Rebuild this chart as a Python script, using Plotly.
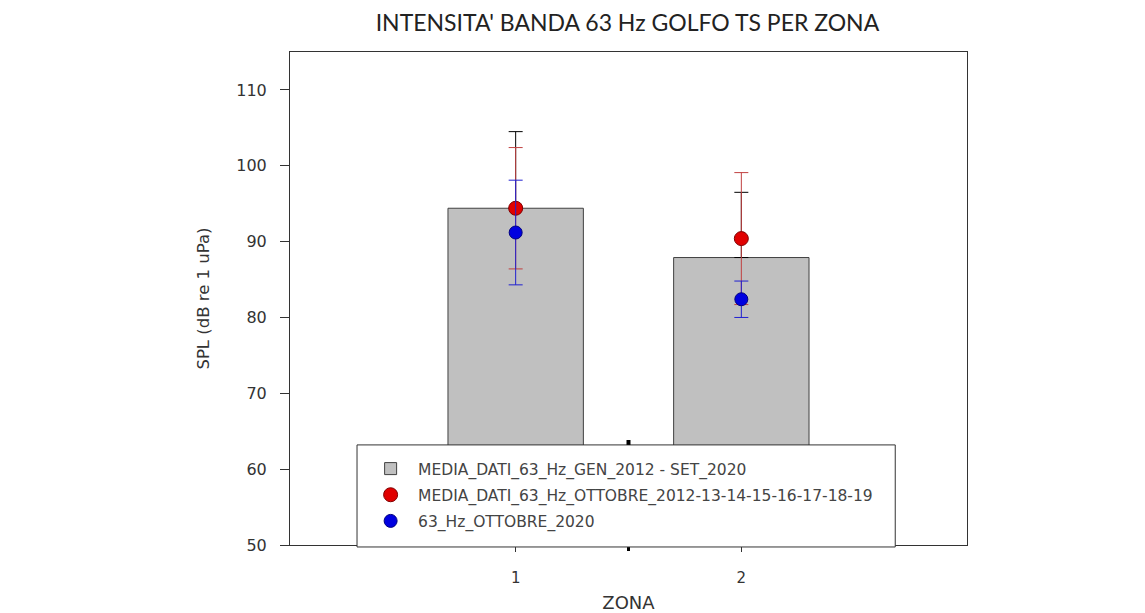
import plotly.graph_objects as go

zones = [1, 2]
bar_mean = [94.4, 87.9]
bar_err_up = [10.1, 8.6]
red_mean = [94.4, 90.4]
red_err = [8.0, 8.7]
blue_mean = [91.2, 82.4]
blue_err = [6.9, 2.4]

name_bar = "MEDIA_DATI_63_Hz_GEN_2012 - SET_2020"
name_red = "MEDIA_DATI_63_Hz_OTTOBRE_2012-13-14-15-16-17-18-19"
name_blue = "63_Hz_OTTOBRE_2020"

fig = go.Figure()
fig.add_trace(go.Bar(
    x=zones, y=bar_mean, width=0.6, name=name_bar, legendgroup="a",
    marker=dict(color="#c0c0c0", line=dict(color="#404040", width=1)),
    error_y=dict(type="data", array=bar_err_up, arrayminus=[0, 0],
                 color="#000000", thickness=1, width=7),
))
fig.add_trace(go.Scatter(
    x=zones, y=red_mean, mode="markers", name=name_red, legendgroup="b",
    marker=dict(color="#e00000", size=14, line=dict(color="#800000", width=1)),
    error_y=dict(type="data", array=red_err, color="#c04040", thickness=1, width=7),
))
fig.add_trace(go.Scatter(
    x=zones, y=blue_mean, mode="markers", name=name_blue, legendgroup="c",
    marker=dict(color="#0000e0", size=13, line=dict(color="#000080", width=1)),
    error_y=dict(type="data", array=blue_err, color="#2020d0", thickness=1, width=7),
))

# legend frame (drawn as a box behind the transparent legend)
fig.add_shape(type="rect", xref="paper", yref="paper",
              x0=0.099, x1=0.894, y0=-0.004, y1=0.203,
              fillcolor="white", line=dict(color="#333333", width=1), layer="above")
# small black marker on the legend frame, midway between the zones
mid = (zones[0] + zones[1]) / 2
fig.add_shape(type="line", xref="x", yref="paper",
              x0=mid, x1=mid, y0=0.203, y1=0.213,
              line=dict(color="#000000", width=4), layer="above")

fig.update_layout(
    width=1145, height=613,
    margin=dict(l=282, r=186, t=44, b=76),
    paper_bgcolor="white", plot_bgcolor="white",
    title=dict(text="INTENSITA' BANDA 63 Hz GOLFO TS PER ZONA",
               x=0.541, xanchor="center", y=0.975, yanchor="middle",
               font=dict(family="Lato", size=23, color="#222222")),
    font=dict(family="DejaVu Sans", color="#333333"),
    showlegend=True,
    legend=dict(x=0.108, y=0.1886, xanchor="left", yanchor="top",
                bgcolor="rgba(0,0,0,0)", borderwidth=0,
                font=dict(family="DejaVu Sans", size=15.5, color="#444444"),
                tracegroupgap=3, itemwidth=45),
    xaxis=dict(range=[0, 3], tickvals=[1, 2], ticktext=["1", "2"],
               showline=True, linecolor="#333333", linewidth=1, mirror=True,
               ticks="outside", ticklen=6, tickcolor="#333333",
               tickfont=dict(size=15, color="#333333"), ticklabelstandoff=13,
               showgrid=False, zeroline=False, automargin=False,
               title=dict(text="ZONA", font=dict(size=18, color="#333333"), standoff=10),
               minor=dict(tickvals=[1.5], ticks="outside", ticklen=5, tickwidth=3,
                          tickcolor="#000000", showgrid=False)),
    yaxis=dict(range=[50, 115], tickvals=[50, 60, 70, 80, 90, 100, 110],
               showline=True, linecolor="#333333", linewidth=1, mirror=True,
               ticks="outside", ticklen=9, tickcolor="#333333",
               tickfont=dict(size=16, color="#333333"), ticklabelstandoff=10,
               showgrid=False, zeroline=False,
               title=dict(text="SPL (dB re 1 uPa)", font=dict(size=16.5, color="#333333"),
                          standoff=22)),
)

fig.write_html("out.html")
